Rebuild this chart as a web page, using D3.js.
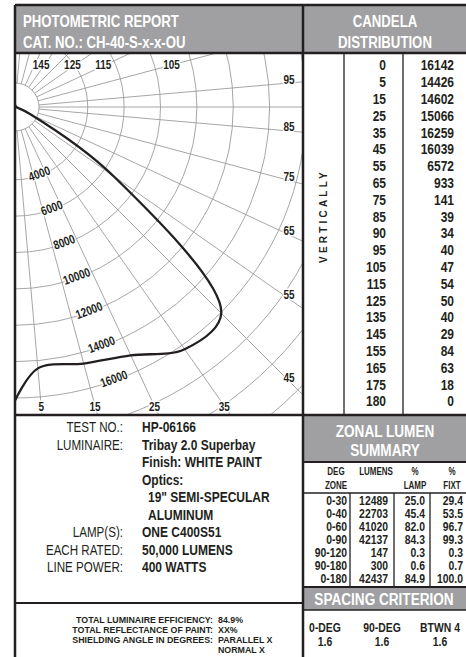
<!DOCTYPE html>
<html lang="en">
<head>
<meta charset="UTF-8">
<title>Photometric Report</title>
<script src="https://d3js.org/d3.v7.min.js"></script>
<style>
  body { margin: 0; background: #fff; }
  svg text { font-family: "Liberation Sans", Arial, sans-serif; font-weight: bold; fill: #231f20; }
  .grid { stroke: #9c9c9c; stroke-width: 0.9; fill: none; }
  .rule { stroke: #231f20; fill: none; }
  .halo { paint-order: stroke; stroke: #fff; stroke-width: 3px; stroke-linejoin: round; }
  .head { fill: #fff !important; }
  .light { font-weight: normal !important; }
</style>
</head>
<body>
<svg width="466" height="657"></svg>
<script>
// candela distribution (vertical angle -> cd)
const angles = [0, 5, 15, 25, 35, 45, 55, 65, 75, 85, 90, 95, 105, 115, 125, 135, 145, 155, 165, 175, 180];
const candela = [16142, 14426, 14602, 15066, 16259, 16039, 6572, 933, 141, 39, 34, 40, 47, 54, 50, 40, 29, 84, 63, 18, 0];

// polar grid
const ringValues = [4000, 6000, 8000, 10000, 12000, 14000, 16000, 18000, 20000, 22000, 24000];
const ringLabels = [4000, 6000, 8000, 10000, 12000, 14000, 16000];
const spokeAngles = [5, 15, 25, 35, 45, 55, 65, 75, 85, 90, 95, 105, 115, 125, 135, 145, 155, 165, 175];
const bottomLabels = [5, 15, 25, 35];
const rightLabels = [45, 55, 65, 75, 85, 95];
const topLabels = [105, 115, 125, 145];

// header texts
const titleLines = ["PHOTOMETRIC REPORT", "CAT. NO.: CH-40-S-x-x-OU"];
const candelaTitle = ["CANDELA", "DISTRIBUTION"];

// luminaire info
const infoLabels = ["TEST NO.:", "LUMINAIRE:", "", "", "", "", "LAMP(S):", "EACH RATED:", "LINE POWER:"];
const infoValues = ["HP-06166", "Tribay 2.0 Superbay", "Finish: WHITE PAINT", "Optics:", "19\" SEMI-SPECULAR", "ALUMINUM", "ONE C400S51", "50,000 LUMENS", "400 WATTS"];
const infoIndent = [0, 0, 0, 0, 1, 1, 0, 0, 0];

const totalLabels = ["TOTAL LUMINAIRE EFFICIENCY:", "TOTAL REFLECTANCE OF PAINT:", "SHIELDING ANGLE IN DEGREES:", ""];
const totalValues = ["84.9%", "XX%", "PARALLEL X", "NORMAL X"];

// zonal lumen summary
const zoneHeaders = [["DEG", "ZONE"], ["LUMENS", ""], ["%", "LAMP"], ["%", "FIXT"]];
const zones = ["0-30", "0-40", "0-60", "0-90", "90-120", "90-180", "0-180"];
const zoneLumens = [12489, 22703, 41020, 42137, 147, 300, 42437];
const zonePctLamp = [25.0, 45.4, 82.0, 84.3, 0.3, 0.6, 84.9];
const zonePctFixt = [29.4, 53.5, 96.7, 99.3, 0.3, 0.7, 100.0];

// spacing criterion
const spacingLabels = ["0-DEG", "90-DEG", "BTWN 4"];
const spacingValues = [1.6, 1.6, 1.6];

const svg = d3.select("svg");
const GRAY = "#a0a0a2";
const K = 0.8; // horizontal squeeze to mimic a condensed face

// place texts at (x, y) with a condensed look
function cond(sel, xf, yf, extra = "", k = K) {
  sel.attr("transform", (d, i) => `translate(${xf(d, i)},${yf(d, i)}) ${extra} scale(${k},1)`)
    .attr("dy", "0.36em");
  return sel;
}

// ---------- header boxes ----------
svg.append("rect").attr("x", 15).attr("y", 5).attr("width", 451).attr("height", 48).attr("fill", GRAY);
svg.append("rect").attr("x", 303).attr("y", 415).attr("width", 163).attr("height", 47).attr("fill", GRAY);
svg.append("rect").attr("x", 303).attr("y", 588).attr("width", 163).attr("height", 22).attr("fill", GRAY);

cond(svg.selectAll(".title").data(titleLines).join("text").attr("class", "head")
  .attr("font-size", 16.5).text(d => d), () => 23, (d, i) => 21 + i * 21);

cond(svg.selectAll(".ctitle").data(candelaTitle).join("text").attr("class", "head")
  .attr("text-anchor", "middle").attr("font-size", 16.5).text(d => d), () => 385, (d, i) => 21 + i * 21);

// ---------- polar plot ----------
const cx = 15, cy = 107, hub = 24;
const r = d3.scaleLinear().domain([0, 16000]).range([0, 291]);
const rad = a => a * Math.PI / 180;
const pt = (a, rr) => [cx + rr * Math.sin(rad(a)), cy + rr * Math.cos(rad(a))];

svg.append("clipPath").attr("id", "plotClip")
  .append("rect").attr("x", 15).attr("y", 53).attr("width", 288).attr("height", 362);

const plot = svg.append("g").attr("clip-path", "url(#plotClip)");

plot.selectAll(".ring").data(ringValues).join("circle")
  .attr("class", "grid").attr("cx", cx).attr("cy", cy).attr("r", d => r(d));
plot.append("circle").attr("class", "grid").attr("cx", cx).attr("cy", cy).attr("r", hub);

plot.selectAll(".spoke").data(spokeAngles).join("line")
  .attr("class", "grid")
  .attr("x1", d => pt(d, hub)[0]).attr("y1", d => pt(d, hub)[1])
  .attr("x2", d => pt(d, 600)[0]).attr("y2", d => pt(d, 600)[1]);

// candela curve
const line = d3.line()
  .x((d, i) => pt(angles[i], r(d))[0])
  .y((d, i) => pt(angles[i], r(d))[1])
  .curve(d3.curveCatmullRom);
plot.append("path").datum(candela)
  .attr("d", line).attr("fill", "none").attr("stroke", "#231f20").attr("stroke-width", 2.3);

// ring labels along 20 deg
cond(plot.selectAll(".rlab").data(ringLabels).join("text").attr("class", "halo")
  .attr("text-anchor", "middle").attr("font-size", 12.5).text(d => d),
  d => pt(20, r(d) - 2)[0], d => pt(20, r(d) - 2)[1], "rotate(-20)");

// angle labels
cond(plot.selectAll(".blab").data(bottomLabels).join("text").attr("class", "halo")
  .attr("text-anchor", "middle").attr("font-size", 12.5).text(d => d),
  d => cx + (406 - cy) * Math.tan(rad(d)), () => 406);

cond(plot.selectAll(".rtlab").data(rightLabels).join("text").attr("class", "halo")
  .attr("text-anchor", "middle").attr("font-size", 12.5).text(d => d),
  () => 289, d => cy + (289 - cx) / Math.tan(rad(d)) - 4);

cond(plot.selectAll(".tlab").data(topLabels).join("text").attr("class", "halo")
  .attr("text-anchor", "middle").attr("font-size", 12.5).text(d => d),
  d => cx + (cy - 64) * Math.tan(rad(180 - d)) - 4, () => 64);

// ---------- candela table ----------
const rowY = i => 65 + i * 16.8;
cond(svg.selectAll(".ang").data(angles).join("text")
  .attr("text-anchor", "end").attr("font-size", 15).text(d => d), () => 386, (d, i) => rowY(i));
cond(svg.selectAll(".cd").data(candela).join("text")
  .attr("text-anchor", "end").attr("font-size", 15).text(d => d), () => 454, (d, i) => rowY(i));

svg.append("text")
  .attr("transform", "translate(323,216) rotate(-90)")
  .attr("dy", "0.36em").attr("text-anchor", "middle")
  .attr("font-size", 10).attr("letter-spacing", 3.2).text("VERTICALLY");

// ---------- luminaire info ----------
const infoY = i => 427 + i * 17.5;
cond(svg.selectAll(".ilab").data(infoLabels).join("text").attr("class", "light")
  .attr("text-anchor", "end").attr("font-size", 14.5).text(d => d), () => 123, (d, i) => infoY(i));
cond(svg.selectAll(".ival").data(infoValues).join("text")
  .attr("font-size", 15).text(d => d), (d, i) => 142 + infoIndent[i] * 6, (d, i) => infoY(i));

const totY = i => 619 + i * 10.3;
cond(svg.selectAll(".tl").data(totalLabels).join("text")
  .attr("text-anchor", "end").attr("font-size", 9.8).text(d => d), () => 213, (d, i) => totY(i), "", 0.9);
cond(svg.selectAll(".tv").data(totalValues).join("text")
  .attr("font-size", 9.8).text(d => d), () => 218, (d, i) => totY(i), "", 0.9);

// ---------- zonal lumen summary ----------
cond(svg.selectAll(".ztitle").data(["ZONAL LUMEN", "SUMMARY"]).join("text").attr("class", "head")
  .attr("text-anchor", "middle").attr("font-size", 17).text(d => d), () => 385, (d, i) => 431 + i * 19);

const zhX = [336, 376, 415, 452];
zoneHeaders.forEach((h, c) => {
  cond(svg.append("g").selectAll("text").data(h).join("text")
    .attr("text-anchor", "middle").attr("font-size", 10).text(d => d), () => zhX[c], (d, k) => 471 + k * 14);
});

const zRowY = i => 500 + i * 13;
const zCols = [
  { x: 347, vals: zones, fmt: d => d },
  { x: 388, vals: zoneLumens, fmt: d => d },
  { x: 425, vals: zonePctLamp, fmt: d => d.toFixed(1) },
  { x: 463, vals: zonePctFixt, fmt: d => d.toFixed(1) }
];
zCols.forEach(c => {
  cond(svg.append("g").selectAll("text").data(c.vals).join("text")
    .attr("text-anchor", "end").attr("font-size", 13).text(c.fmt), () => c.x, (d, i) => zRowY(i));
});

cond(svg.append("text").datum("SPACING CRITERION").attr("class", "head")
  .attr("text-anchor", "middle").attr("font-size", 17).text(d => d), () => 384, () => 599);

const spX = [325, 382, 440];
cond(svg.selectAll(".spl").data(spacingLabels).join("text")
  .attr("text-anchor", "middle").attr("font-size", 13).text(d => d), (d, i) => spX[i], () => 627);
cond(svg.selectAll(".spv").data(spacingValues).join("text")
  .attr("text-anchor", "middle").attr("font-size", 13).text(d => d.toFixed(1)), (d, i) => spX[i], () => 641);

// ---------- rules ----------
const rules = [
  [15, 5, 466, 5, 2.5], [15, 5, 15, 657, 2.5], [303, 5, 303, 657, 2.5],
  [15, 53, 466, 53, 2.5], [15, 415, 466, 415, 2.5], [15, 603, 303, 603, 2],
  [344, 53, 344, 415, 1.3], [403, 53, 403, 415, 1.3],
  [303, 462, 466, 462, 2], [303, 493, 466, 493, 1.3],
  [350, 493, 350, 587, 1.3], [394, 493, 394, 587, 1.3], [430, 493, 430, 587, 1.3],
  [303, 587, 466, 587, 2], [303, 610, 466, 610, 1.3]
];
svg.selectAll(".rule").data(rules).join("line")
  .attr("class", "rule")
  .attr("x1", d => d[0]).attr("y1", d => d[1]).attr("x2", d => d[2]).attr("y2", d => d[3])
  .attr("stroke-width", d => d[4]);
</script>
</body>
</html>
